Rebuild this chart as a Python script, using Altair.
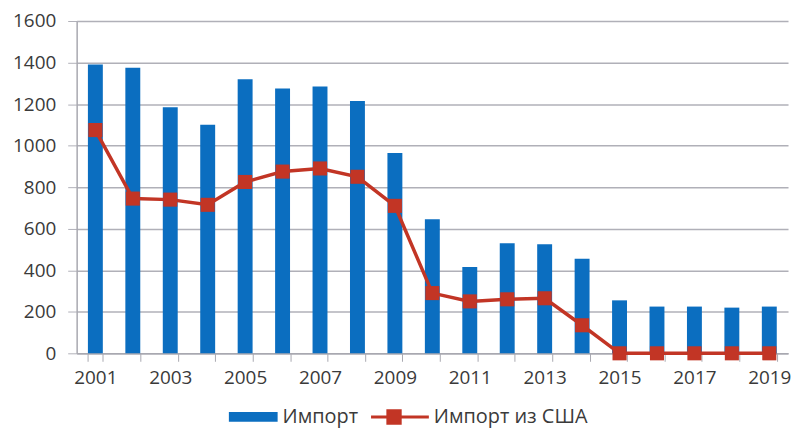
import altair as alt
import pandas as pd

years = [str(y) for y in range(2001, 2020)]
imports = [1390, 1375, 1185, 1100, 1320, 1275, 1285, 1215, 965, 645,
           415, 530, 525, 455, 255, 225, 225, 220, 225]
imports_usa = [1075, 745, 740, 715, 825, 875, 890, 850, 710, 290,
               250, 260, 265, 135, 0, 0, 0, 0, 0]
series_names = ["Импорт", "Импорт из США"]

BLUE = "#0b6ec0"
RED = "#c23525"
FONT = "Open Sans"

df_bar = pd.DataFrame({"year": years, "value": imports, "series": series_names[0]})
df_line = pd.DataFrame({"year": years, "value": imports_usa, "series": series_names[1]})

x = alt.X("year:O", title=None, sort=years,
          scale=alt.Scale(paddingInner=0.6, paddingOuter=0.3),
          axis=alt.Axis(labelAngle=0, tickBand="extent", tickSize=8,
                        tickColor="#a8a8b0", domainColor="#a8a8b0", domainWidth=1.5,
                        labelExpr="toNumber(datum.value) % 2 == 1 ? datum.label : ''",
                        labelPadding=7, labelFontSize=19, labelColor="#3a3a3a",
                        labelFont=FONT))
y = alt.Y("value:Q", title=None,
          scale=alt.Scale(domain=[0, 1600], nice=False),
          axis=alt.Axis(values=list(range(0, 1601, 200)), format="d", tickSize=9,
                        tickColor="#b0b0b8", gridColor="#b0b0b8", gridWidth=1.5,
                        domainColor="#a8a8b0", domainWidth=1.5,
                        labelPadding=12, labelFontSize=19, labelColor="#3a3a3a",
                        labelFont=FONT))

color = alt.Color("series:N",
                  scale=alt.Scale(domain=series_names, range=[BLUE, RED]),
                  legend=None)
shape_scale = alt.Scale(
    domain=series_names,
    range=["M-6,-0.7 L1,-0.7 L1,0.7 L-6,0.7 Z",
           "M-7.3,-0.22 L1,-0.22 L1,0.22 L-7.3,0.22 Z M-5.1,-1.1 L-2.9,-1.1 L-2.9,1.1 L-5.1,1.1 Z"])

bars = alt.Chart(df_bar).mark_bar(color=BLUE, width=15).encode(x=x, y=y, color=color)
line = alt.Chart(df_line).mark_line(color=RED, strokeWidth=3.5).encode(x=x, y=y)
points = alt.Chart(df_line).mark_point(filled=True, shape="square", size=200, opacity=1,
                                       color=RED, clip=False).encode(x=x, y=y)

legend_df = pd.DataFrame({"series": series_names})
legend_layer = alt.Chart(legend_df).mark_point(opacity=0, size=0).encode(
    shape=alt.Shape("series:N", scale=shape_scale,
                    legend=alt.Legend(title=None, orient="none", direction="horizontal",
                                      legendX=185, legendY=388, symbolSize=196,
                                      symbolStrokeWidth=0, symbolOpacity=1,
                                      labelFontSize=20, labelColor="#3a3a3a", labelFont=FONT,
                                      labelOffset=2, columnPadding=12)),
    fill=alt.Fill("series:N", scale=alt.Scale(domain=series_names, range=[BLUE, RED]), legend=None),
)

chart = alt.layer(bars, line, points, legend_layer).properties(
    width=715, height=334,
    autosize=alt.AutoSizeParams(type="none"),
    padding={"left": 69, "top": 12, "right": 4, "bottom": 75},
).configure_view(stroke=None).resolve_scale(color="independent")

chart.save("out.html", embed_options={"renderer": "svg", "actions": False})
